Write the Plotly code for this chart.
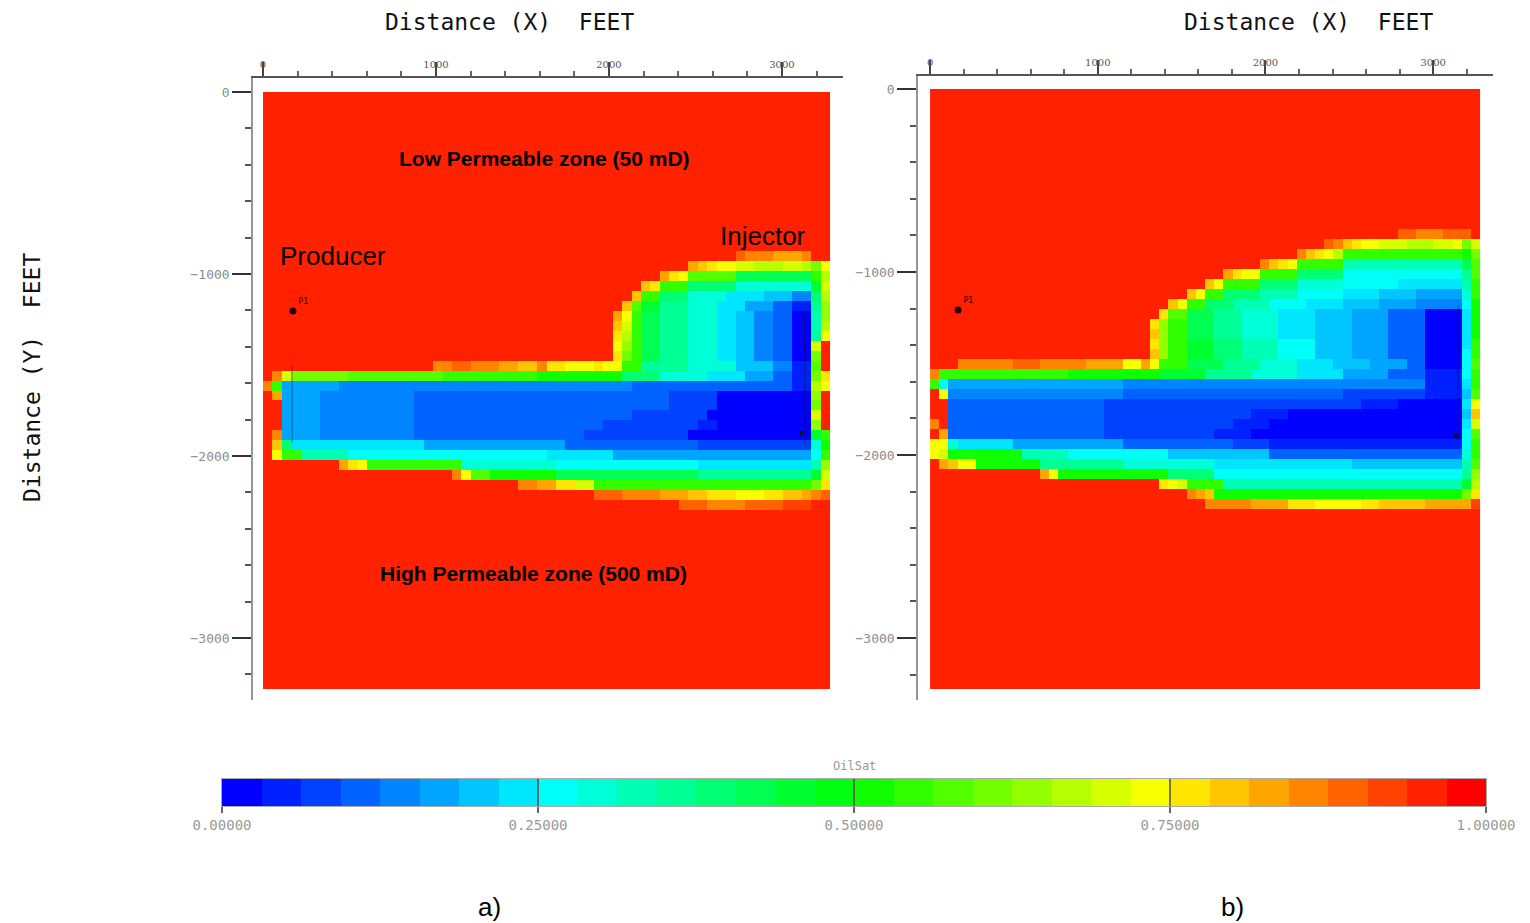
import numpy as np
import plotly.graph_objects as go

# ---------------- data ----------------
# Oil saturation maps, 60 x 60 cells, coded per colour bin (32 bins over 0..1)
# code: "0".."9","a".."v" -> bin 0..31 ; rows are run-length "code:count"
CODES = "0123456789abcdefghijklmnopqrstuv"
NBIN = 32
EXTENT_FT = 3280.0
NX = 60
NY = 60

ROWS_A = [
    "u:60", "u:60", "u:60", "u:60", "u:60", "u:60", "u:60", "u:60",
    "u:60", "u:60", "u:60", "u:60", "u:60", "u:60", "u:60", "u:60",
    "u:50 s:1 r:3 q:3 r:1 u:2",
    "u:45 q:1 p:1 o:1 n:2 m:2 l:3 m:2 l:1 j:1 n:1",
    "u:42 q:1 o:1 n:1 i:5 d:8 h:1 l:1",
    "u:40 p:1 o:1 h:3 c:5 9:8 e:1 m:1",
    "u:39 p:1 h:2 c:3 9:4 7:4 6:3 4:2 c:1 l:1",
    "u:38 p:1 i:1 e:2 b:3 9:3 7:3 5:3 3:2 1:2 b:1 k:1",
    "u:37 q:1 n:1 h:1 d:2 b:3 9:3 7:2 6:2 4:2 3:2 0:2 a:1 k:1",
    "u:37 p:1 m:1 h:1 d:2 b:3 9:3 7:2 6:2 4:2 3:2 0:2 a:1 l:1",
    "u:37 o:1 l:1 h:1 d:2 b:3 9:3 7:2 6:2 4:2 3:2 0:2 b:1 n:1",
    "u:37 n:1 k:1 h:1 d:2 b:3 9:3 7:2 6:2 4:2 3:2 0:2 m:1 u:1",
    "u:37 o:1 j:1 h:1 d:2 b:3 9:3 7:2 6:2 4:2 3:2 0:2 j:1 u:1",
    "u:18 r:2 s:2 r:3 q:2 p:2 r:1 o:2 n:3 o:1 n:2 h:2 b:5 9:5 6:4 4:2 1:2 i:1 u:1",
    "u:1 r:1 m:1 j:6 i:10 h:10 g:9 c:4 9:5 7:4 5:3 3:2 1:2 j:1 o:1",
    "r:1 h:1 5:6 4:31 3:17 1:2 l:1 n:1",
    "u:1 q:1 5:4 4:10 3:27 2:5 0:10 k:1 u:1",
    "u:2 5:4 4:10 3:27 2:5 0:10 j:1 u:1",
    "u:2 5:4 4:10 3:23 2:8 0:11 m:1 u:1",
    "u:2 5:4 4:10 3:20 2:10 1:2 0:10 k:1 u:1",
    "u:1 r:1 5:4 4:10 3:18 2:11 0:13 e:1 h:1",
    "u:1 p:1 c:1 7:14 5:15 3:14 2:12 9:1 g:1",
    "u:1 n:1 h:2 a:5 8:21 7:7 5:21 8:1 h:1",
    "u:8 q:1 o:1 n:1 h:10 9:10 8:15 7:12 a:1 k:1",
    "u:20 r:1 n:1 i:2 g:7 d:15 b:12 e:1 m:1",
    "u:27 r:2 q:2 o:2 m:2 h:23 j:1 o:1",
    "u:35 s:3 r:4 q:3 p:2 o:3 n:3 o:2 p:2 q:1 r:1 s:1",
    "u:44 s:3 r:4 s:4 t:3 u:2",
    "u:60", "u:60", "u:60", "u:60", "u:60", "u:60", "u:60", "u:60", "u:60",
    "u:60", "u:60", "u:60", "u:60", "u:60", "u:60", "u:60", "u:60", "u:60",
]

ROWS_B = [
    "u:60", "u:60", "u:60", "u:60", "u:60", "u:60", "u:60",
    "u:60", "u:60", "u:60", "u:60", "u:60", "u:60", "u:60",
    "u:51 s:2 r:3 s:3 u:1",
    "u:43 s:1 r:1 p:1 o:1 n:2 m:3 l:3 m:2 n:1 j:1 m:1",
    "u:40 r:1 p:1 o:1 n:1 l:1 h:13 g:1 j:1",
    "u:36 r:1 p:1 o:1 n:1 h:5 a:13 d:1 i:1",
    "u:32 q:1 o:1 n:2 h:4 c:5 8:13 b:1 i:1",
    "u:30 p:1 n:1 h:4 c:4 9:5 8:6 7:7 a:1 h:1",
    "u:28 p:1 n:1 h:2 c:4 a:4 8:5 7:4 6:4 5:5 9:1 h:1",
    "u:26 p:1 n:1 h:2 c:3 a:4 8:4 7:4 6:4 5:4 4:5 8:1 g:1",
    "u:25 o:1 i:2 d:3 b:3 9:4 7:4 6:4 5:4 3:4 0:4 7:1 g:1",
    "u:24 o:1 k:1 h:2 d:3 b:3 9:4 7:4 6:4 5:4 3:4 0:4 7:1 g:1",
    "u:24 p:1 k:1 h:2 d:3 b:3 9:4 7:4 6:4 5:4 3:4 0:4 7:1 g:1",
    "u:24 o:1 k:1 h:2 e:3 c:3 a:4 8:4 6:4 5:4 3:4 0:4 7:1 h:1",
    "u:24 p:1 k:1 h:2 e:3 c:3 a:4 8:4 6:4 5:4 3:4 0:4 8:1 h:1",
    "u:3 r:6 s:3 r:5 q:4 n:2 q:1 n:1 h:3 d:4 b:4 9:4 7:4 6:4 5:4 3:2 0:4 8:1 i:1",
    "r:1 h:14 g:10 e:5 b:5 9:5 7:5 5:5 3:4 1:4 8:1 h:1",
    "h:1 8:1 5:19 4:33 1:4 7:1 h:1",
    "u:1 n:1 4:19 3:24 2:9 1:4 6:1 i:1",
    "u:2 3:17 2:28 1:4 0:7 7:1 n:1",
    "u:2 3:17 2:16 1:4 0:19 6:1 p:1",
    "r:1 u:1 3:17 2:14 1:4 0:21 7:1 m:1",
    "u:1 q:1 3:17 2:12 1:4 0:23 8:1 i:1",
    "n:2 9:1 7:6 5:12 3:12 2:4 1:21 8:1 h:1",
    "n:1 m:1 g:8 a:5 8:11 6:11 3:21 9:1 h:1",
    "u:1 q:1 p:1 n:2 g:7 b:9 9:10 7:15 6:12 a:1 i:1",
    "u:12 q:1 n:1 g:12 c:5 8:27 b:1 k:1",
    "u:25 o:1 n:1 m:1 h:4 a:26 e:1 l:1",
    "u:28 r:1 q:1 p:1 g:27 j:1 o:1",
    "u:30 r:5 q:4 o:3 n:5 o:2 p:5 q:4 q:1 t:1",
    "u:60", "u:60", "u:60", "u:60", "u:60", "u:60", "u:60", "u:60", "u:60",
    "u:60", "u:60", "u:60", "u:60", "u:60", "u:60", "u:60", "u:60", "u:60",
]

# wells (ft): producer dot, injector mark, and well trace segments
PRODUCER_A = (173, -1203)
PRODUCER_B = (167, -1208)
INJECTOR_A = (3114, -1874)
INJECTOR_B = (3137, -1896)
PTRACE_A_X, PTRACE_A_Y = [168, 168], [-1500, -1929]
ITRACE_A_X, ITRACE_A_Y = [3131, 3131], [-1180, -1940]
ITRACE_B_X, ITRACE_B_Y = [3148, 3148], [-1180, -1920]

CB_TICKS = [0.0, 0.25, 0.5, 0.75, 1.0]
CB_TICKTEXT = ["0.00000", "0.25000", "0.50000", "0.75000", "1.00000"]


def decode(rows):
    grid = []
    for row in rows:
        vals = []
        for tok in row.split():
            code, n = tok.split(":")
            vals += [CODES.index(code)] * int(n)
        assert len(vals) == NX, (row, len(vals))
        grid.append(vals)
    assert len(grid) == NY
    return (np.array(grid, dtype=float) + 0.5) / NBIN


zA = decode(ROWS_A)
zB = decode(ROWS_B)

# ---------------- style ----------------
W, H = 1530, 923


def px(x):
    return x / W


def py(y):
    return 1 - y / H


def jet(t):
    anchors = [(0.0, (0, 0, 255)), (0.25, (0, 255, 255)), (0.5, (0, 255, 0)),
               (0.75, (255, 255, 0)), (1.0, (255, 0, 0))]
    for (t0, c0), (t1, c1) in zip(anchors[:-1], anchors[1:]):
        if t <= t1 + 1e-9:
            f = (t - t0) / (t1 - t0)
            return tuple(round(a + (b - a) * f) for a, b in zip(c0, c1))
    return anchors[-1][1]


colorscale = []
for k in range(NBIN):
    c = "rgb(%d,%d,%d)" % jet(k / (NBIN - 1))
    colorscale.append([k / NBIN, c])
    colorscale.append([(k + 1) / NBIN, c])

dx = EXTENT_FT / NX
dy = EXTENT_FT / NY

fig = go.Figure()
for z, xa, ya in [(zA, "x", "y"), (zB, "x2", "y2")]:
    fig.add_trace(go.Heatmap(z=z, x0=dx / 2, dx=dx, y0=-dy / 2, dy=-dy,
                             coloraxis="coloraxis", xaxis=xa, yaxis=ya,
                             hoverinfo="skip"))

trace_line = dict(color="rgba(20,20,40,0.45)", width=1)
fig.add_trace(go.Scatter(x=PTRACE_A_X, y=PTRACE_A_Y, mode="lines", line=trace_line,
                         xaxis="x", yaxis="y", showlegend=False, hoverinfo="skip"))
fig.add_trace(go.Scatter(x=ITRACE_A_X, y=ITRACE_A_Y, mode="lines", line=trace_line,
                         xaxis="x", yaxis="y", showlegend=False, hoverinfo="skip"))
fig.add_trace(go.Scatter(x=ITRACE_B_X, y=ITRACE_B_Y, mode="lines", line=trace_line,
                         xaxis="x2", yaxis="y2", showlegend=False, hoverinfo="skip"))

for (wx, wy), xa, ya in [(PRODUCER_A, "x", "y"), (PRODUCER_B, "x2", "y2")]:
    fig.add_trace(go.Scatter(x=[wx], y=[wy], mode="markers+text", text=["P1"],
                             textposition="top right",
                             textfont=dict(size=8, color="#330000", family="DejaVu Sans"),
                             marker=dict(size=7, color="#2a0000"),
                             xaxis=xa, yaxis=ya, showlegend=False, hoverinfo="skip"))
for (wx, wy), xa, ya in [(INJECTOR_A, "x", "y"), (INJECTOR_B, "x2", "y2")]:
    fig.add_trace(go.Scatter(x=[wx], y=[wy], mode="markers",
                             marker=dict(size=5, color="#101030", symbol="circle"),
                             xaxis=xa, yaxis=ya, showlegend=False, hoverinfo="skip"))

# colour bar drawn as its own strip: one cell per colour bin on a 0..1 axis
bin_values = [(k + 0.5) / NBIN for k in range(NBIN)]
fig.add_trace(go.Heatmap(z=[bin_values], x0=0.5 / NBIN, dx=1 / NBIN, y0=0.5, dy=1,
                         coloraxis="coloraxis", xaxis="x3", yaxis="y3",
                         hoverinfo="skip"))
cb_x, cb_y = [], []
for v in CB_TICKS[1:-1]:
    cb_x += [v, v, None]
    cb_y += [0, 1, None]
fig.add_trace(go.Scatter(x=cb_x, y=cb_y, mode="lines",
                         line=dict(color="#4a4a4a", width=1.5),
                         xaxis="x3", yaxis="y3", showlegend=False, hoverinfo="skip"))

xa_common = dict(side="top", showline=True, linecolor="#555", linewidth=1.5,
                 ticks="outside", ticklen=14, tickwidth=1.5, tickcolor="#444",
                 tickmode="linear", tick0=0, dtick=1000,
                 minor=dict(ticks="outside", ticklen=5, dtick=200, tickcolor="#666"),
                 tickfont=dict(size=10, color="#555", family="DejaVu Serif"),
                 ticklabelstandoff=-10, automargin=False,
                 showgrid=False, zeroline=False, fixedrange=True)
ya_common = dict(showline=True, linecolor="#8a9e8c", linewidth=1.5,
                 ticks="outside", ticklen=19, tickwidth=2, tickcolor="#333",
                 tickmode="linear", tick0=0, dtick=1000,
                 minor=dict(ticks="outside", ticklen=6, dtick=200, tickcolor="#555"),
                 tickfont=dict(size=13, color="#8c8c8c", family="DejaVu Sans Mono"),
                 automargin=False,
                 showgrid=False, zeroline=False, fixedrange=True)

# colour bar geometry (pixels)
CB_LEFT, CB_RIGHT, CB_TOP, CB_BOTTOM = 222, 1486, 779, 806

fig.update_layout(
    width=W, height=H,
    autosize=False,
    margin=dict(l=0, r=0, t=0, b=0, pad=0, autoexpand=False),
    paper_bgcolor="white", plot_bgcolor="white",
    showlegend=False,
    xaxis=dict(domain=[px(253), px(843)], range=[-58, 3353], anchor="y", **xa_common),
    yaxis=dict(domain=[py(700), py(78)], range=[-3341, 77], anchor="x", **ya_common),
    xaxis2=dict(domain=[px(918), px(1493)], range=[-72, 3357], anchor="y2", **xa_common),
    yaxis2=dict(domain=[py(700), py(76)], range=[-3339, 71], anchor="x2", **ya_common),
    xaxis3=dict(domain=[px(CB_LEFT), px(CB_RIGHT)], range=[0, 1], anchor="y3",
                showline=True, mirror=True, linecolor="#aaa", linewidth=1,
                ticks="outside", ticklen=6, tickwidth=1.5, tickcolor="#666",
                tickmode="array", tickvals=CB_TICKS, ticktext=CB_TICKTEXT,
                tickfont=dict(size=14, color="#999", family="DejaVu Sans Mono"),
                automargin=False,
                showgrid=False, zeroline=False, fixedrange=True),
    yaxis3=dict(domain=[py(CB_BOTTOM), py(CB_TOP)], range=[0, 1], anchor="x3",
                showline=True, mirror=True, linecolor="#aaa", linewidth=1,
                showticklabels=False, ticks="", showgrid=False, zeroline=False,
                automargin=False, fixedrange=True),
    coloraxis=dict(colorscale=colorscale, cmin=0, cmax=1, showscale=False),
)

ann = []
title_font = dict(family="DejaVu Sans Mono", size=23, color="#111")
ann.append(dict(text="Distance (X)  FEET", x=px(509), y=py(22), xref="paper", yref="paper",
                showarrow=False, font=title_font, xanchor="center", yanchor="middle"))
ann.append(dict(text="Distance (X)  FEET", x=px(1308), y=py(22), xref="paper", yref="paper",
                showarrow=False, font=title_font, xanchor="center", yanchor="middle"))
ann.append(dict(text="Distance (Y)  FEET", x=px(32), y=py(378), xref="paper", yref="paper",
                showarrow=False, font=title_font, textangle=-90,
                xanchor="center", yanchor="middle"))
ann.append(dict(text="OilSat", x=px((CB_LEFT + CB_RIGHT) / 2), y=py(766),
                xref="paper", yref="paper",
                xanchor="center", yanchor="middle", showarrow=False,
                font=dict(size=12, color="#999", family="DejaVu Sans Mono")))
bold = dict(family="Liberation Sans, Arial", size=21, color="black")
ann.append(dict(text="<b>Low Permeable zone (50 mD)</b>", x=1629, y=-363, xref="x", yref="y",
                showarrow=False, font=bold))
ann.append(dict(text="<b>High Permeable zone (500 mD)</b>", x=1566, y=-2648, xref="x", yref="y",
                showarrow=False, font=bold))
reg = dict(family="Liberation Sans, Arial", size=26, color="black")
ann.append(dict(text="Producer", x=87, y=-901, xref="x", yref="y", xanchor="left",
                showarrow=False, font=reg))
ann.append(dict(text="Injector", x=2629, y=-791, xref="x", yref="y", xanchor="left",
                showarrow=False, font=reg))
ann.append(dict(text="a)", x=px(490), y=py(907), xref="paper", yref="paper",
                xanchor="center", yanchor="middle", showarrow=False, font=reg))
ann.append(dict(text="b)", x=px(1232), y=py(907), xref="paper", yref="paper",
                xanchor="center", yanchor="middle", showarrow=False, font=reg))
fig.update_layout(annotations=ann)

fig.write_html("out.html")
